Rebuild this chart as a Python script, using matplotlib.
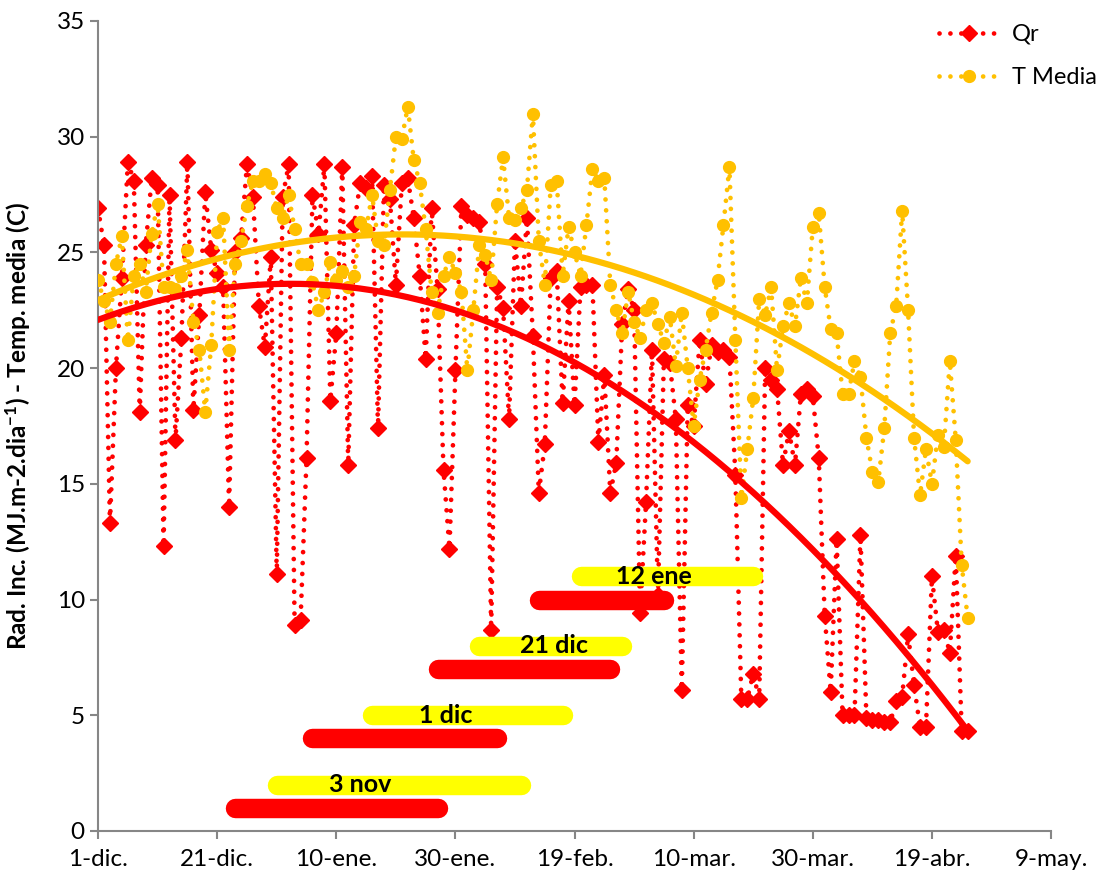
import numpy as np
import pandas as pd
import matplotlib
matplotlib.use("Agg")
from matplotlib import pyplot as plt

plt.rcParams['font.family'] = ['Lato', 'DejaVu Sans']
plt.rcParams['mathtext.default'] = 'regular'

# daily series from 1-dic
start = '2011-12-01'
qr = [26.9, 25.3, 13.3, 20.0, 23.9, 28.9, 28.1, 18.1, 25.3, 28.2,
      27.9, 12.3, 27.5, 16.9, 21.3, 28.9, 18.2, 22.3, 27.6, 25.1,
      24.1, 23.5, 14.0, 25.0, 25.6, 28.8, 27.4, 22.7, 20.9, 24.8,
      11.1, 27.4, 28.8, 8.9, 9.1, 16.1, 27.5, 25.8, 28.8, 18.6,
      21.5, 28.7, 15.8, 26.2, 28.0, 27.8, 28.3, 17.4, 27.9, 27.3,
      23.6, 28.0, 28.2, 26.5, 24.0, 20.4, 26.9, 23.4, 15.6, 12.2,
      19.9, 27.0, 26.6, 26.5, 26.3, 24.5, 8.7, 23.5, 22.6, 17.8,
      25.5, 22.7, 26.5, 21.4, 14.6, 16.7, 23.9, 24.2, 18.5, 22.9,
      18.4, 23.5, 23.6, 23.6, 16.8, 19.7, 14.6, 15.9, 21.9, 23.4,
      22.5, 9.4, 14.2, 20.8, 10.2, 20.4, 20.2, 17.8, 6.1, 18.4,
      17.5, 21.2, 19.3, 21.0, 20.7, 20.8, 20.5, 15.4, 5.7, 5.7,
      6.8, 5.7, 20.0, 19.5, 19.1, 15.8, 17.3, 15.8, 18.9, 19.1,
      18.8, 16.1, 9.3, 6.0, 12.6, 5.0, 5.0, 5.0, 12.8, 4.9,
      4.8, 4.8, 4.7, 4.7, 5.6, 5.8, 8.5, 6.3, 4.5, 4.5,
      11.0, 8.6, 8.7, 7.7, 11.9, 4.3, 4.3]
tmedia = [23.8, 22.9, 22.0, 24.5, 25.7, 21.2, 24.0, 24.5, 23.3, 25.8,
          27.1, 23.5, 23.5, 23.4, 24.0, 25.1, 22.0, 20.8, 18.1, 21.0,
          25.9, 26.5, 20.8, 24.5, 25.5, 27.0, 28.1, 28.1, 28.4, 28.0,
          26.9, 26.5, 27.5, 26.0, 24.5, 24.5, 23.7, 22.5, 23.3, 24.6,
          23.8, 24.2, 23.5, 24.0, 26.3, 26.0, 27.5, 25.5, 25.3, 27.7,
          30.0, 29.9, 31.3, 29.0, 28.0, 26.0, 23.3, 22.4, 24.0, 24.8,
          24.1, 23.3, 19.9, 22.5, 25.3, 24.9, 23.8, 27.1, 29.1, 26.5,
          26.4, 26.9, 27.7, 31.0, 25.5, 23.6, 27.9, 28.1, 24.0, 26.1,
          25.0, 24.0, 26.2, 28.6, 28.1, 28.2, 23.6, 22.5, 21.5, 23.3,
          22.0, 21.3, 22.5, 22.8, 21.9, 21.1, 22.2, 20.1, 22.4, 20.0,
          17.5, 19.5, 20.8, 22.4, 23.8, 26.2, 28.7, 21.2, 14.4, 16.5,
          18.7, 23.0, 22.3, 23.5, 19.9, 21.8, 22.8, 21.8, 23.9, 22.8,
          26.1, 26.7, 23.5, 21.7, 21.5, 18.9, 18.9, 20.3, 19.6, 17.0,
          15.5, 15.1, 17.4, 21.5, 22.7, 26.8, 22.5, 17.0, 14.5, 16.5,
          15.0, 17.1, 16.6, 20.3, 16.9, 11.5, 9.2]

# phase bars (days from 1-dic)
red_bar_start = [23, 36, 57, 74]
red_bar_end = [57, 67, 86, 95]
red_bar_level = [1, 4, 7, 10]
yel_bar_start = [30, 46, 64, 81]
yel_bar_end = [71, 78, 88, 110]
yel_bar_level = [2, 5, 8, 11]
bar_labels = ['3 nov', '1 dic', '21 dic', '12 ene']
label_day = [44, 58.3, 76.6, 93.4]

meses = {12: 'dic', 1: 'ene', 2: 'feb', 3: 'mar', 4: 'abr', 5: 'may'}

t0 = pd.Timestamp(start)
dates = pd.date_range(start, periods=len(qr))
days = np.arange(len(qr))

fig = plt.figure(figsize=(11.03, 8.8), dpi=100)
ax = fig.add_axes([0.0889, 0.0557, 0.864, 0.9205])

red = '#FF0000'
gold = '#FFC000'
dot = (0, (0.01, 2.3))

ax.plot(dates, qr, linestyle=dot, dash_capstyle='round', lw=3.4, color=red,
        marker='D', ms=8, mec=red, label='Qr', zorder=2)
ax.plot(dates, tmedia, linestyle=dot, dash_capstyle='round', lw=3.4, color=gold,
        marker='o', ms=8.5, mec=gold, label='T Media', zorder=3)

# 2nd order trends
for y, c in [(qr, red), (tmedia, gold)]:
    p = np.polyfit(days, y, 2)
    ax.plot(dates, np.polyval(p, days), color=c, lw=4.5, solid_capstyle='round', zorder=4)

# bars
for s, e, lv in zip(red_bar_start, red_bar_end, red_bar_level):
    ax.plot([t0 + pd.Timedelta(days=s), t0 + pd.Timedelta(days=e)], [lv, lv],
            color=red, lw=14, solid_capstyle='round', zorder=5)
for s, e, lv in zip(yel_bar_start, yel_bar_end, yel_bar_level):
    ax.plot([t0 + pd.Timedelta(days=s), t0 + pd.Timedelta(days=e)], [lv, lv],
            color='#FFFF00', lw=14, solid_capstyle='round', zorder=5)
for txt, d, lv in zip(bar_labels, label_day, yel_bar_level):
    ax.text(t0 + pd.Timedelta(days=d), lv, txt, ha='center', va='center',
            fontsize=18, fontweight='bold', zorder=6)

ticks = pd.date_range(start, periods=9, freq='20D')
ax.set_xticks(ticks)
ax.set_xticklabels([f'{d.day}-{meses[d.month]}.' for d in ticks])
ax.set_xlim(ticks[0], ticks[-1])
ax.set_ylim(0, 35)
ax.set_yticks(range(0, 36, 5))

for s in ['top', 'right']:
    ax.spines[s].set_visible(False)
for s in ['left', 'bottom']:
    ax.spines[s].set_color('#868686')
    ax.spines[s].set_linewidth(1.5)
ax.tick_params(axis='both', colors='#868686', labelcolor='black', labelsize=17.5,
               length=6, width=1.5, direction='out')
ax.tick_params(axis='x', pad=7)

ax.set_ylabel('Rad. Inc. (MJ.m-2.dia$^{-1}$) - Temp. media (C)', fontsize=17.5,
              fontweight='bold')
ax.yaxis.set_label_coords(-0.068, 0.5)

ax.legend(loc='upper left', bbox_to_anchor=(0.872, 1.008), frameon=False,
          fontsize=17, handlelength=2.6, labelspacing=0.95, handletextpad=0.5,
          borderaxespad=0)

fig.savefig('out.png', dpi=100)
